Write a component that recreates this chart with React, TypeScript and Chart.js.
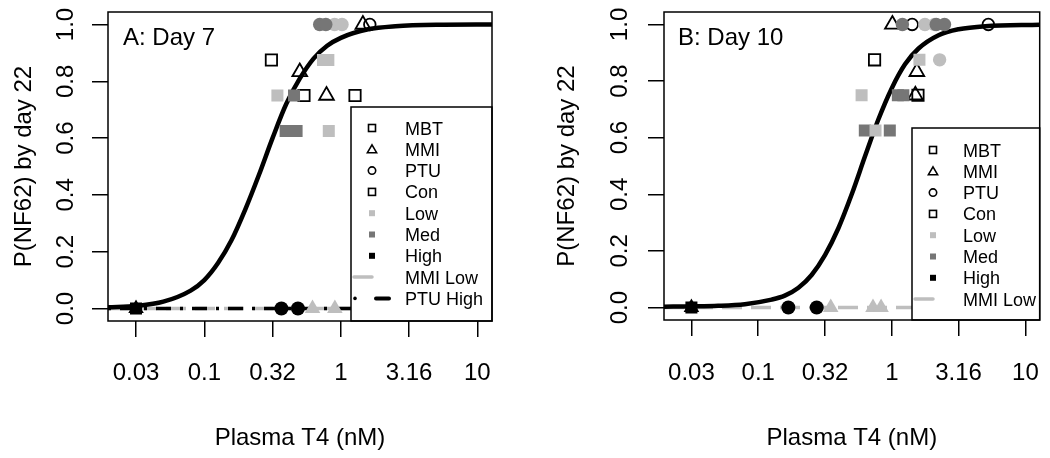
import React, { useEffect, useRef } from 'react';
import { Chart, registerables } from 'chart.js';

Chart.register(...registerables);

// ---------- axis ticks ----------
const xTickValues = [0.0316, 0.1, 0.3162, 1, 3.162, 10];
const xTickLabels = ['0.03', '0.1', '0.32', '1', '3.16', '10'];
const yTickValues = [0, 0.2, 0.4, 0.6, 0.8, 1.0];
const yTickLabels = ['0.0', '0.2', '0.4', '0.6', '0.8', '1.0'];
const xMin = 0.0197;
const xMax = 12.8;
const yMin = -0.044;
const yMax = 1.044;
const xTitle = 'Plasma T4 (nM)';
const yTitle = 'P(NF62) by day 22';

// ---------- legends ----------
const legendLabelsA = ['MBT', 'MMI', 'PTU', 'Con', 'Low', 'Med', 'High', 'MMI Low', 'PTU High'];
const legendKeysA = ['openSquare', 'openTriangle', 'openCircle', 'openSquare', 'lowSquare', 'medSquare', 'highSquare', 'grayLine', 'dotDash'];
const legendLabelsB = ['MBT', 'MMI', 'PTU', 'Con', 'Low', 'Med', 'High', 'MMI Low'];
const legendKeysB = ['openSquare', 'openTriangle', 'openCircle', 'openSquare', 'lowSquare', 'medSquare', 'highSquare', 'grayLine'];

// ---------- panel A: Day 7 ----------
const curveA_x = [0.0197, 0.0316, 0.0501, 0.0794, 0.1, 0.126, 0.158, 0.2, 0.251, 0.316, 0.398, 0.501, 0.631, 0.794, 1, 1.585, 2.512, 5.01, 12.8];
const curveA_y = [0.004, 0.009, 0.024, 0.063, 0.1, 0.16, 0.24, 0.35, 0.47, 0.6, 0.72, 0.81, 0.88, 0.925, 0.953, 0.983, 0.994, 0.999, 1.0];
const mmiLowA_x = [0.0197, 12.8];
const mmiLowA_y = [0, 0];
const ptuHighA_x = [0.0197, 12.8];
const ptuHighA_y = [0, 0];

const A_openSq_x = [0.31, 0.537, 1.27];
const A_openSq_y = [0.875, 0.75, 0.75];
const A_openTri_x = [0.5, 0.785, 1.45];
const A_openTri_y = [0.833, 0.75, 1.0];
const A_openCirc_x = [1.63];
const A_openCirc_y = [1.0];
const A_lowSq_x = [0.74, 0.81, 0.343, 0.816];
const A_lowSq_y = [0.875, 0.875, 0.75, 0.625];
const A_medSq_x = [0.454, 0.394, 0.474];
const A_medSq_y = [0.75, 0.625, 0.625];
const A_medCirc_x = [0.7, 0.776];
const A_medCirc_y = [1.0, 1.0];
const A_lowCirc_x = [0.9, 1.02];
const A_lowCirc_y = [1.0, 1.0];
const A_lowTri_x = [0.62, 0.904];
const A_lowTri_y = [0, 0];
const A_highCirc_x = [0.367, 0.485];
const A_highCirc_y = [0, 0];
const A_highTri_x = [0.0316];
const A_highTri_y = [0];
const A_highSq_x = [0.0316];
const A_highSq_y = [0];

// ---------- panel B: Day 10 ----------
const curveB_x = [0.0197, 0.0316, 0.0501, 0.0794, 0.126, 0.158, 0.2, 0.251, 0.316, 0.398, 0.501, 0.631, 0.794, 1, 1.259, 1.585, 2.239, 3.162, 5.01, 12.8];
const curveB_y = [0.003, 0.004, 0.006, 0.012, 0.028, 0.042, 0.07, 0.115, 0.185, 0.28, 0.4, 0.535, 0.665, 0.775, 0.86, 0.915, 0.962, 0.983, 0.994, 0.999];
const mmiLowB_x = [0.0197, 12.8];
const mmiLowB_y = [0, 0];

const B_openSq_x = [0.743, 1.57];
const B_openSq_y = [0.875, 0.75];
const B_openTri_x = [1.01, 1.54, 1.5];
const B_openTri_y = [1.0, 0.833, 0.75];
const B_openCirc_x = [1.42, 5.28];
const B_openCirc_y = [1.0, 1.0];
const B_medCirc_x = [1.2, 2.15, 2.48];
const B_medCirc_y = [1.0, 1.0, 1.0];
const B_lowCirc_x = [1.77, 2.09, 2.28];
const B_lowCirc_y = [1.0, 1.0, 0.875];
const B_lowSq_x = [1.61, 0.594, 0.755];
const B_lowSq_y = [0.875, 0.75, 0.625];
const B_medSq_x = [1.11, 1.22, 0.628, 0.966];
const B_medSq_y = [0.75, 0.75, 0.625, 0.625];
const B_lowTri_x = [0.349, 0.723, 0.831];
const B_lowTri_y = [0, 0, 0];
const B_highCirc_x = [0.168, 0.274];
const B_highCirc_y = [0, 0];
const B_highTri_x = [0.0316];
const B_highTri_y = [0];
const B_highSq_x = [0.0316];
const B_highSq_y = [0];

// ---------- styling ----------
const LIGHT = '#bebebe';
const DARK = '#767676';
const BLACK = '#000000';
const FONT = '"Liberation Sans", Arial, Helvetica, sans-serif';

const zip = (xs: number[], ys: number[]) => xs.map((x, i) => ({ x, y: ys[i] }));

function pointSet(xs: number[], ys: number[], style: string, kind: string) {
  const open = kind === 'open';
  const color = kind === 'low' ? LIGHT : kind === 'med' ? DARK : BLACK;
  let r = 8;
  if (style === 'rect') r = open ? 8.0 : 8.5;
  if (style === 'circle') r = open ? 5.8 : kind === 'high' ? 7 : 6.7;
  if (style === 'triangle') r = open ? 8.5 : 9;
  return {
    type: 'scatter',
    data: zip(xs, ys),
    pointStyle: style,
    pointRadius: r,
    pointHoverRadius: r,
    pointBackgroundColor: open ? 'rgba(0,0,0,0)' : color,
    pointBorderColor: open ? BLACK : color,
    pointBorderWidth: open ? 1.8 : 0,
    showLine: false,
    order: open ? 3 : 2,
  };
}

function lineSet(xs: number[], ys: number[], color: string, width: number, dash: number[], order: number) {
  return {
    type: 'line',
    data: zip(xs, ys),
    borderColor: color,
    borderWidth: width,
    borderDash: dash,
    pointRadius: 0,
    pointHoverRadius: 0,
    fill: false,
    cubicInterpolationMode: 'monotone',
    order,
  };
}

const datasetsA = [
  lineSet(curveA_x, curveA_y, BLACK, 4.5, [], 10),
  lineSet(mmiLowA_x, mmiLowA_y, LIGHT, 3.5, [20, 9], 12),
  lineSet(ptuHighA_x, ptuHighA_y, BLACK, 3.5, [3, 9, 15, 9], 11),
  pointSet(A_openSq_x, A_openSq_y, 'rect', 'open'),
  pointSet(A_openTri_x, A_openTri_y, 'triangle', 'open'),
  pointSet(A_openCirc_x, A_openCirc_y, 'circle', 'open'),
  pointSet(A_lowSq_x, A_lowSq_y, 'rect', 'low'),
  pointSet(A_medSq_x, A_medSq_y, 'rect', 'med'),
  pointSet(A_medCirc_x, A_medCirc_y, 'circle', 'med'),
  pointSet(A_lowCirc_x, A_lowCirc_y, 'circle', 'low'),
  pointSet(A_lowTri_x, A_lowTri_y, 'triangle', 'low'),
  pointSet(A_highCirc_x, A_highCirc_y, 'circle', 'high'),
  pointSet(A_highSq_x, A_highSq_y, 'rect', 'high'),
  pointSet(A_highTri_x, A_highTri_y, 'triangle', 'high'),
];

const datasetsB = [
  lineSet(curveB_x, curveB_y, BLACK, 4.5, [], 10),
  lineSet(mmiLowB_x, mmiLowB_y, LIGHT, 3.5, [20, 9], 12),
  pointSet(B_openSq_x, B_openSq_y, 'rect', 'open'),
  pointSet(B_openTri_x, B_openTri_y, 'triangle', 'open'),
  pointSet(B_openCirc_x, B_openCirc_y, 'circle', 'open'),
  pointSet(B_medCirc_x, B_medCirc_y, 'circle', 'med'),
  pointSet(B_lowCirc_x, B_lowCirc_y, 'circle', 'low'),
  pointSet(B_lowSq_x, B_lowSq_y, 'rect', 'low'),
  pointSet(B_medSq_x, B_medSq_y, 'rect', 'med'),
  pointSet(B_lowTri_x, B_lowTri_y, 'triangle', 'low'),
  pointSet(B_highCirc_x, B_highCirc_y, 'circle', 'high'),
  pointSet(B_highSq_x, B_highSq_y, 'rect', 'high'),
  pointSet(B_highTri_x, B_highTri_y, 'triangle', 'high'),
];

type Panel = {
  label: string;
  datasets: any[];
  legendLabels: string[];
  legendKeys: string[];
  padRight: number;
  yWidth: number;
  xHeight: number;
  yLabelX: number;
  yTitleX: number;
  labelOffset: number;
  legend: { left: number; top: number; symX: number; textX: number; row0: number; step: number };
};

const panelA: Panel = {
  label: 'A: Day 7',
  datasets: datasetsA,
  legendLabels: legendLabelsA,
  legendKeys: legendKeysA,
  padRight: 33,
  yWidth: 108,
  xHeight: 137,
  yLabelX: 73,
  yTitleX: 31,
  labelOffset: 15,
  legend: { left: 351, top: 107, symX: 372, textX: 405, row0: 128, step: 21.3 },
};

const panelB: Panel = {
  label: 'B: Day 10',
  datasets: datasetsB,
  legendLabels: legendLabelsB,
  legendKeys: legendKeysB,
  padRight: 3,
  yWidth: 139,
  xHeight: 138,
  yLabelX: 102,
  yTitleX: 49,
  labelOffset: 14,
  legend: { left: 387, top: 128, symX: 408, textX: 438, row0: 150, step: 21.3 },
};

function drawLegendSymbol(ctx: CanvasRenderingContext2D, key: string, cx: number, cy: number) {
  ctx.save();
  ctx.strokeStyle = BLACK;
  ctx.fillStyle = BLACK;
  ctx.lineWidth = 1.6;
  switch (key) {
    case 'openSquare':
      ctx.strokeRect(cx - 3.5, cy - 3.5, 7, 7);
      break;
    case 'openTriangle':
      ctx.beginPath();
      ctx.moveTo(cx, cy - 4.5);
      ctx.lineTo(cx + 4.6, cy + 3.4);
      ctx.lineTo(cx - 4.6, cy + 3.4);
      ctx.closePath();
      ctx.stroke();
      break;
    case 'openCircle':
      ctx.beginPath();
      ctx.arc(cx, cy, 3.7, 0, Math.PI * 2);
      ctx.stroke();
      break;
    case 'lowSquare':
      ctx.fillStyle = LIGHT;
      ctx.fillRect(cx - 3, cy - 3, 6, 6);
      break;
    case 'medSquare':
      ctx.fillStyle = DARK;
      ctx.fillRect(cx - 3, cy - 3, 6, 6);
      break;
    case 'highSquare':
      ctx.fillRect(cx - 3, cy - 3, 6, 6);
      break;
    case 'grayLine':
      ctx.strokeStyle = LIGHT;
      ctx.lineWidth = 3.5;
      ctx.lineCap = 'round';
      ctx.beginPath();
      ctx.moveTo(cx - 18, cy);
      ctx.lineTo(cx, cy);
      ctx.stroke();
      break;
    case 'dotDash':
      ctx.beginPath();
      ctx.arc(cx - 17, cy, 1.8, 0, Math.PI * 2);
      ctx.fill();
      ctx.lineWidth = 4;
      ctx.lineCap = 'round';
      ctx.beginPath();
      ctx.moveTo(cx + 4, cy);
      ctx.lineTo(cx + 17, cy);
      ctx.stroke();
      break;
  }
  ctx.restore();
}

function makePlugin(p: Panel) {
  return {
    id: 'rDecor',
    afterDatasetsDraw(chart: any) {
      const ctx: CanvasRenderingContext2D = chart.ctx;
      const a = chart.chartArea;
      // legend box
      const lg = p.legend;
      ctx.save();
      ctx.fillStyle = '#ffffff';
      ctx.fillRect(lg.left, lg.top, a.right - lg.left, a.bottom - lg.top);
      ctx.strokeStyle = BLACK;
      ctx.lineWidth = 1.5;
      ctx.strokeRect(lg.left, lg.top, a.right - lg.left, a.bottom - lg.top);
      ctx.font = `18px ${FONT}`;
      ctx.fillStyle = BLACK;
      ctx.textAlign = 'left';
      ctx.textBaseline = 'alphabetic';
      p.legendLabels.forEach((t, i) => {
        const cy = lg.row0 + i * lg.step;
        drawLegendSymbol(ctx, p.legendKeys[i], lg.symX, cy);
        ctx.fillStyle = BLACK;
        ctx.fillText(t, lg.textX, cy + 6.5);
      });
      // plot box
      ctx.strokeStyle = BLACK;
      ctx.lineWidth = 1.5;
      ctx.strokeRect(a.left, a.top, a.right - a.left, a.bottom - a.top);
      ctx.restore();
    },
    afterDraw(chart: any) {
      const ctx: CanvasRenderingContext2D = chart.ctx;
      const a = chart.chartArea;
      const xs = chart.scales.x;
      const ys = chart.scales.y;
      ctx.save();
      ctx.fillStyle = BLACK;
      ctx.font = `24px ${FONT}`;
      ctx.textBaseline = 'alphabetic';
      ctx.textAlign = 'center';
      xTickValues.forEach((v, i) => {
        ctx.fillText(xTickLabels[i], xs.getPixelForValue(v), 380);
      });
      ctx.fillText(xTitle, (a.left + a.right) / 2, 445);
      yTickValues.forEach((v, i) => {
        ctx.save();
        ctx.translate(p.yLabelX, ys.getPixelForValue(v));
        ctx.rotate(-Math.PI / 2);
        ctx.fillText(yTickLabels[i], 0, 0);
        ctx.restore();
      });
      ctx.save();
      ctx.translate(p.yTitleX, (a.top + a.bottom) / 2);
      ctx.rotate(-Math.PI / 2);
      ctx.fillText(yTitle, 0, 0);
      ctx.restore();
      ctx.textAlign = 'left';
      ctx.fillText(p.label, a.left + p.labelOffset, 45);
      ctx.restore();
    },
  };
}

function PanelChart({ p, left }: { p: Panel; left: number }) {
  const ref = useRef<HTMLCanvasElement | null>(null);
  useEffect(() => {
    if (!ref.current) return;
    const chart = new Chart(ref.current, {
      type: 'scatter',
      data: { datasets: p.datasets as any },
      options: {
        animation: false,
        responsive: false,
        devicePixelRatio: 1,
        events: [],
        layout: { padding: { top: 12, right: p.padRight, left: 0, bottom: 0 } },
        plugins: { legend: { display: false }, tooltip: { enabled: false }, title: { display: false } },
        scales: {
          x: {
            type: 'logarithmic',
            min: xMin,
            max: xMax,
            afterBuildTicks: (s: any) => {
              s.ticks = xTickValues.map((v) => ({ value: v }));
            },
            afterFit: (s: any) => {
              s.height = p.xHeight;
            },
            ticks: { display: false },
            grid: { drawOnChartArea: false, drawTicks: true, tickLength: 16, color: BLACK, lineWidth: 1.5 },
            border: { display: false },
          },
          y: {
            type: 'linear',
            min: yMin,
            max: yMax,
            afterBuildTicks: (s: any) => {
              s.ticks = yTickValues.map((v) => ({ value: v }));
            },
            afterFit: (s: any) => {
              s.width = p.yWidth;
            },
            ticks: { display: false },
            grid: { drawOnChartArea: false, drawTicks: true, tickLength: 16, color: BLACK, lineWidth: 1.5 },
            border: { display: false },
          },
        },
      } as any,
      plugins: [makePlugin(p)],
    });
    return () => chart.destroy();
  }, [p]);
  return (
    <canvas
      ref={ref}
      width={525}
      height={458}
      style={{ position: 'absolute', left, top: 0, width: 525, height: 458 }}
    />
  );
}

export default function App() {
  return (
    <div style={{ position: 'fixed', left: 0, top: 0, width: 1050, height: 458, background: '#ffffff' }}>
      <PanelChart p={panelA} left={0} />
      <PanelChart p={panelB} left={525} />
    </div>
  );
}
